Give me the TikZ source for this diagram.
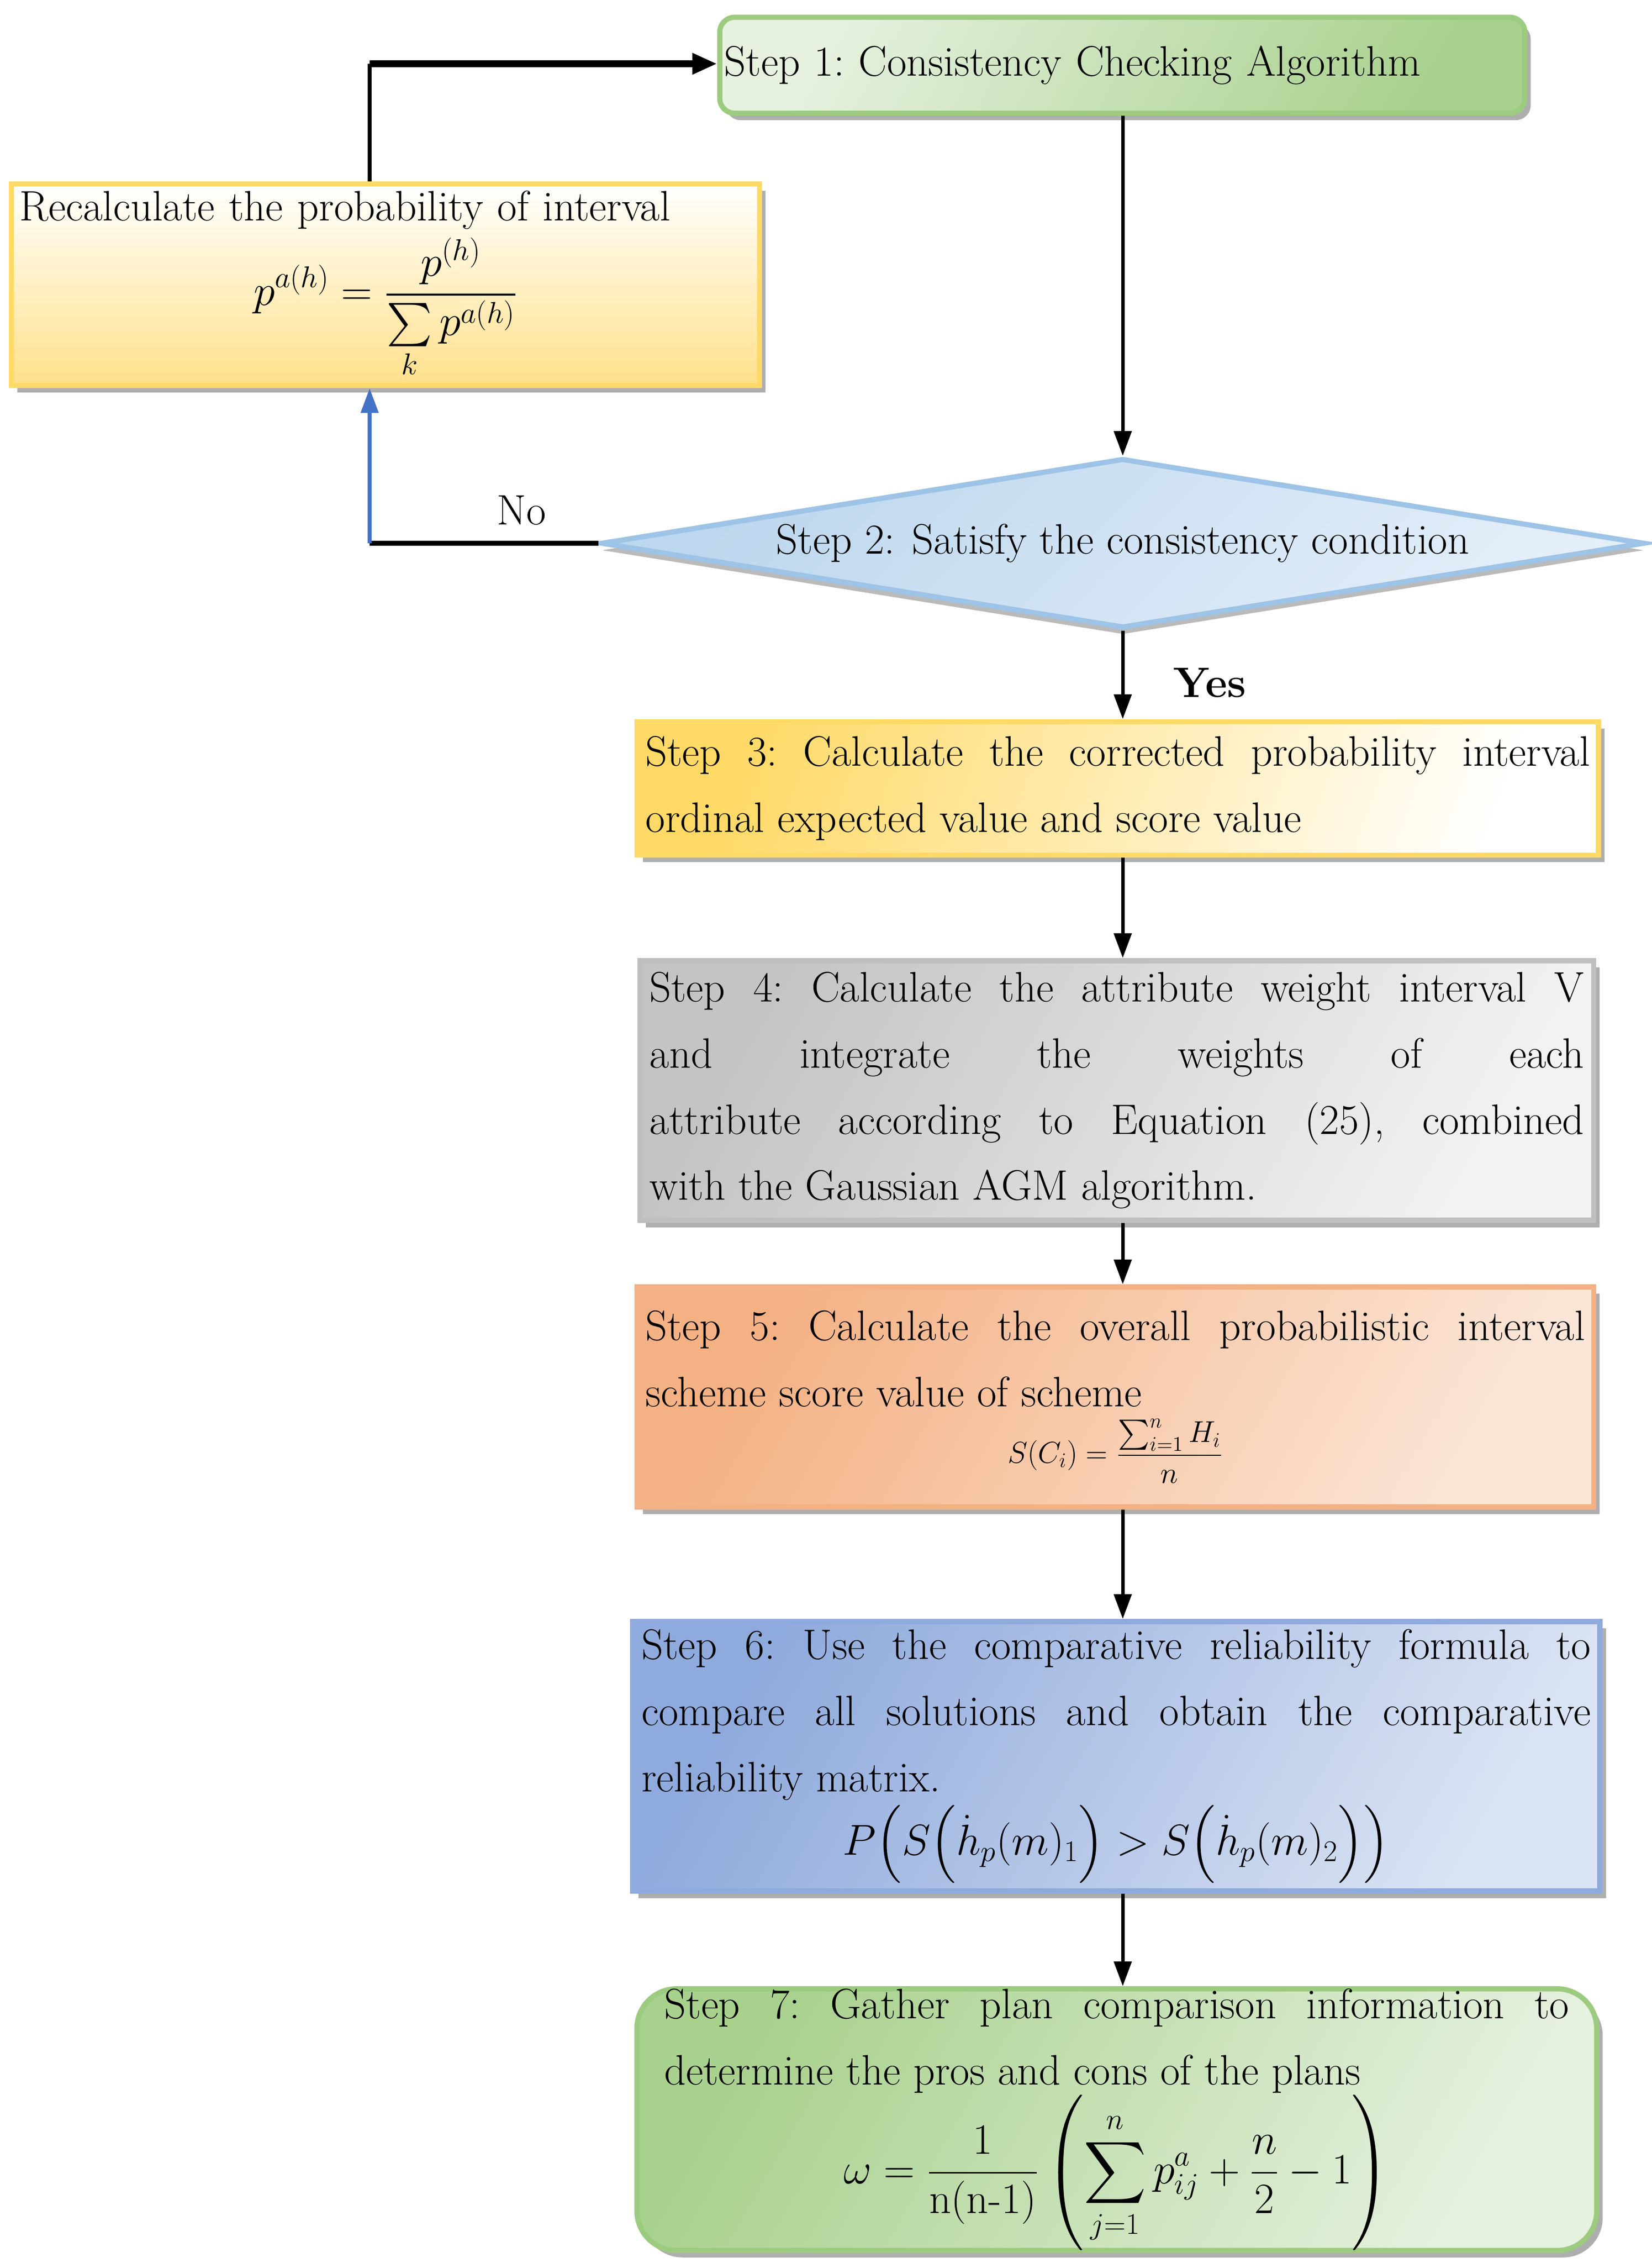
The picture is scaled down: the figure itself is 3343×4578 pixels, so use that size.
\documentclass[tikz,border=0pt]{standalone}
\usepackage{amsmath}
\usetikzlibrary{shapes.geometric,arrows.meta,shadows}
\definecolor{gA}{HTML}{A9D18E}\definecolor{gB}{HTML}{E6F1DF}\definecolor{gE}{HTML}{9CCB80}
\definecolor{yA}{HTML}{FFE08A}\definecolor{yE}{HTML}{FFD966}
\definecolor{bA}{HTML}{BDD7EE}\definecolor{bB}{HTML}{E3EEF9}\definecolor{bE}{HTML}{9DC3E6}
\definecolor{grA}{HTML}{C4C4C4}\definecolor{grB}{HTML}{F2F2F2}\definecolor{grE}{HTML}{BFBFBF}
\definecolor{oA}{HTML}{F4B183}\definecolor{oB}{HTML}{FBE5D6}\definecolor{oE}{HTML}{F4B183}
\definecolor{pA}{HTML}{8FAADC}\definecolor{pB}{HTML}{DAE3F3}\definecolor{pE}{HTML}{8FAADC}
\definecolor{arrB}{HTML}{4472C4}
\tikzset{
 box/.style={draw, line width=3pt, inner sep=0pt, align=justify,
   drop shadow={shadow xshift=0.12cm, shadow yshift=-0.14cm, fill=black!45, opacity=0.7},
   font=\fontsize{24.5}{38}\selectfont\frenchspacing},
 arr/.style={line width=2pt, -{Triangle[length=0.5cm,width=0.35cm]}},
}
\begin{document}
\begin{tikzpicture}[x=0.01cm,y=-0.01cm]
\useasboundingbox (0,0) rectangle (3343,4578);
\node[box, draw=gE, rounded corners=0.3cm, left color=gB, right color=gA, shading angle=60,
  minimum width=16.28cm, minimum height=1.94cm, text width=16.1cm, align=left] (s1) at (2271,132)
  {Step 1: Consistency Checking Algorithm};
\node[box, draw=yE, top color=white, bottom color=yA, minimum width=15.13cm, minimum height=4.08cm,
  text width=14.8cm, align=left] (rc) at (780,576)
  {Recalculate the probability of interval\par\vspace{4pt}
   {\centering $\displaystyle p^{a(h)}=\frac{p^{(h)}}{\sum\limits_{k} p^{a(h)}}$\par}};
\node[draw=bE, line width=3pt, diamond, aspect=6.15, inner sep=0pt, minimum width=21.1cm, minimum height=3.43cm,
  left color=bA, right color=bB, shading angle=45,
  drop shadow={shadow xshift=0cm, shadow yshift=-0.14cm, fill=black!45, opacity=0.6},
  font=\fontsize{24.5}{38}\selectfont] (s2) at (2272,1099) {Step 2: Satisfy the consistency condition};
\node[box, draw=yE, left color=yE, right color=white, shading angle=70, minimum width=19.44cm,
  minimum height=2.7cm, text width=19.1cm] (s3) at (2262,1595)
  {Step 3: Calculate the corrected probability interval\linebreak ordinal expected value and score value};
\node[box, draw=grE, left color=grA, right color=grB, shading angle=60, minimum width=19.29cm,
  minimum height=5.25cm, text width=18.9cm] (s4) at (2260,2206)
  {Step 4: Calculate the attribute weight interval V\linebreak and integrate the weights of each\linebreak attribute according to Equation (25), combined\linebreak with the Gaussian AGM algorithm.};
\node[box, draw=oE, left color=oA, right color=oB, shading angle=60, minimum width=19.35cm,
  minimum height=4.45cm, text width=19.0cm] (s5) at (2257,2826)
  {Step 5: Calculate the overall probabilistic interval\linebreak scheme score value of scheme\par\vspace{6pt}
   {\centering\fontsize{17}{20}\selectfont $S(C_i)=\dfrac{\sum_{i=1}^{n}H_i}{n}$\par}};
\node[box, draw=pE, left color=pA, right color=pB, shading angle=60, minimum width=19.56cm,
  minimum height=5.45cm, text width=19.2cm] (s6) at (2259,3553)
  {Step 6: Use the comparative reliability formula to\linebreak compare all solutions and obtain the comparative\linebreak reliability matrix.\par\vspace{2pt}
   {\centering\fontsize{26}{30}\selectfont $P\Big(S\Big(\dot{h}_p(m)_1\Big)>S\Big(\dot{h}_p(m)_2\Big)\Big)$\par}};
\node[box, draw=gE, rounded corners=0.8cm, left color=gA, right color=gB, shading angle=60,
  minimum width=19.41cm, minimum height=5.14cm, text width=18.3cm] (s7) at (2260,4288)
  {Step 7: Gather plan comparison information to\linebreak determine the pros and cons of the plans\par
   {\centering $\displaystyle \omega=\frac{1}{\mathrm{n(n\text{-}1)}}\left(\sum_{j=1}^{n}p_{ij}^{a}+\frac{n}{2}-1\right)$\par}};
\coordinate (c1) at (748,1099);
\coordinate (c2) at (748,129);
\draw[arr] (s1.south -| s2.north) -- (s2.north);
\draw[arr] (s2.south) -- (s3.north -| s2.south);
\draw[arr] (s3.south -| s2.south) -- (s4.north -| s2.south);
\draw[arr] (s4.south -| s2.south) -- (s5.north -| s2.south);
\draw[arr] (s5.south -| s2.south) -- (s6.north -| s2.south);
\draw[arr] (s6.south -| s2.south) -- (s7.north -| s2.south);
\draw[line width=3pt] (s2.west) -- (c1);
\draw[line width=2pt, arrB, -{Triangle[length=0.5cm,width=0.35cm]}] (c1) -- (rc.south -| c1);
\draw[line width=2pt] (rc.north -| c1) -- (c2);
\draw[line width=4pt, -{Triangle[length=0.5cm,width=0.4cm]}] (c2) -- (s1.west |- c2);
\node[font=\fontsize{24.5}{28}\selectfont] (no) at (1055,1032) {No};
\node[font=\bfseries\fontsize{24.5}{28}\selectfont] (yes) at (2448,1381) {Yes};
\end{tikzpicture}
\end{document}
